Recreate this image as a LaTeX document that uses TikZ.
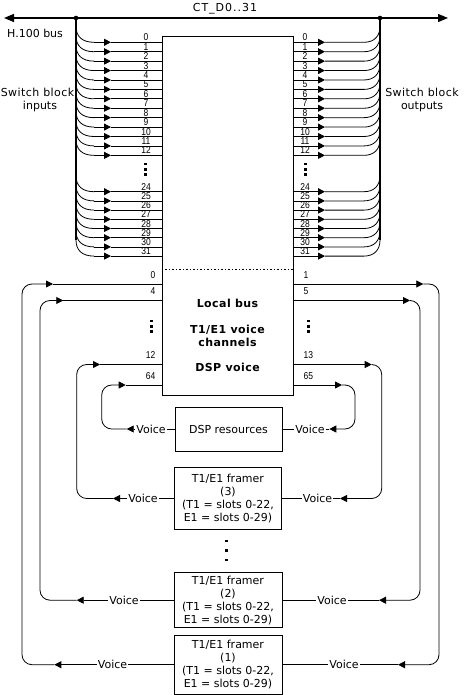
\documentclass[tikz,border=0pt]{standalone}
\usepackage{fontspec}
\setmainfont{DejaVu Sans}
\newfontfamily\numfont[FakeStretch=0.85]{Liberation Sans}
\newfontfamily\widefont[LetterSpace=9]{DejaVu Sans}
\newfontfamily\semiwide[LetterSpace=4]{DejaVu Sans}
\usetikzlibrary{arrows.meta}
\newcommand\swrow[2]{%
  \draw[wire] (76,#1-16) .. controls (76,#1-6) and (82,#1) .. (94,#1);
  \draw[wire,tip] (94,#1) -- (111,#1);
  \draw[wire] (111,#1) -- (sw.west |- 0,#1);
  \node[num, anchor=south] at (146,#1-0.8) {#2};
  \draw[wire,tip] (sw.east |- 0,#1) -- (325,#1);
  \draw[wire] (325,#1) -- (364,#1) .. controls (374,#1) and (380,#1-6) .. (380,#1-16);
  \node[num, anchor=south] at (305,#1-0.8) {#2};
}
\newcommand\dotsq[2]{\fill (#1-1.4,#2-1.4) rectangle (#1+1.4,#2+1.4);}
\begin{document}
\begin{tikzpicture}[x=1pt,y=-1pt,
  wire/.style={line width=0.8pt},
  bus/.style={line width=1.3pt},
  tip/.style={-{Triangle[length=7pt,width=7pt]}},
  box/.style={draw, line width=0.8pt, align=center, inner sep=0pt, font=\fontsize{11}{13}\selectfont},
  lbl/.style={font=\fontsize{11}{13}\selectfont, inner sep=0pt},
  wlbl/.style={font=\widefont\fontsize{11}{13}\selectfont, inner sep=0pt},
  slbl/.style={font=\semiwide\fontsize{11}{13}\selectfont, inner sep=0pt},
  bold/.style={font=\semiwide\fontsize{11}{13}\selectfont\bfseries, inner sep=0pt},
  num/.style={font=\numfont\fontsize{10}{10}\selectfont, inner sep=0.4pt},
  voice/.style={font=\fontsize{11}{13}\selectfont, fill=white, inner sep=1pt}]
\useasboundingbox (0,0) rectangle (466,695);

% boxes
\node[box, minimum width=131pt, minimum height=359pt] (sw) at (227.5,215.5) {};
\node[box, minimum width=107pt, minimum height=44pt] (dsp) at (228.5,429) {DSP resources};
\node[box, minimum width=107.5pt, minimum height=61.5pt] (f3) at (228,498.5) {T1/E1 framer\\(3)\\(T1 = slots 0-22,\\E1 = slots 0-29)};
\node[box, minimum width=108pt, minimum height=55pt] (f2) at (228,600.2) {T1/E1 framer\\(2)\\(T1 = slots 0-22,\\E1 = slots 0-29)};
\node[box, minimum width=108pt, minimum height=59pt] (f1) at (228,664.7) {T1/E1 framer\\(1)\\(T1 = slots 0-22,\\E1 = slots 0-29)};

% H.100 bus
\coordinate (busL) at (4,18);
\coordinate (busR) at (448,18);
\coordinate (jL) at (76,18);
\coordinate (jR) at (380,18);
\draw[bus, {Triangle[length=10pt,width=8pt]}-{Triangle[length=10pt,width=8pt]}] (busL) -- (busR);
\fill (jL) circle (2.3pt);
\fill (jR) circle (2.3pt);
\draw[line width=1.1pt] (jL) -- (76,240);
\draw[line width=1.1pt] (jR) -- (380,240);

\node[wlbl, anchor=base] at (225,12) {CT\_D0..31};
\node[lbl, anchor=base west] at (7,38) {H.100 bus};
\node[slbl, anchor=base] at (37.5,96.5) {Switch block};
\node[lbl, anchor=base] at (40,110) {inputs};
\node[slbl, anchor=base] at (422,97) {Switch block};
\node[lbl, anchor=base] at (422,110) {outputs};

% switch rows
\foreach \i in {0,...,12}{\pgfmathsetmacro\ry{42.3+9.42*\i}\swrow{\ry}{\i}}
\foreach \i [count=\k from 0] in {24,...,31}{\pgfmathsetmacro\ry{191.7+9.2*\k}\swrow{\ry}{\i}}

\dotsq{145.7}{164}\dotsq{145.7}{169.2}\dotsq{145.7}{174.4}
\dotsq{305.7}{164}\dotsq{305.7}{169.2}\dotsq{305.7}{174.4}

% separator
\draw[dash pattern=on 1.5pt off 2pt, line width=0.6pt] (sw.west |- 0,269) -- (sw.east |- 0,269);

% central texts
\node[bold, anchor=base] at (227.5,307.5) {Local bus};
\node[bold, anchor=base] at (227.5,333.5) {T1/E1 voice};
\node[bold, anchor=base] at (227.5,346) {channels};
\node[bold, anchor=base] at (227.5,371.5) {DSP voice};

% local bus labels
\node[num, anchor=south east] at (156,279) {0};
\node[num, anchor=south east] at (156,295.5) {4};
\node[num, anchor=south east] at (156,359.5) {12};
\node[num, anchor=south east] at (156,380) {64};
\node[num, anchor=south west] at (303,279) {1};
\node[num, anchor=south west] at (303,295.5) {5};
\node[num, anchor=south west] at (303,359.5) {13};
\node[num, anchor=south west] at (303,380) {65};
\dotsq{151.7}{321}\dotsq{151.7}{326.2}\dotsq{151.7}{331.4}
\dotsq{308.3}{321}\dotsq{308.3}{326.2}\dotsq{308.3}{331.4}
\dotsq{226.7}{541}\dotsq{226.7}{550.5}\dotsq{226.7}{560}

% left loops (framers/DSP -> switch)
\draw[wire,tip] (f1.west) -- (f1.west -| 54.3,0);
\draw[wire,rounded corners=10pt,tip] (f1.west -| 54.3,0) -- (f1.west -| 22,0) -- (22,284) -- (53,284);
\draw[wire] (53,284) -- (sw.west |- 0,284);
\node[voice] at (f1.west -| 112.5,0) {Voice};

\draw[wire,tip] (f2.west) -- (f2.west -| 76.7,0);
\draw[wire,rounded corners=10pt,tip] (f2.west -| 76.7,0) -- (f2.west -| 40,0) -- (40,300.5) -- (63.3,300.5);
\draw[wire] (63.3,300.5) -- (sw.west |- 0,300.5);
\node[voice] at (f2.west -| 124,0) {Voice};

\draw[wire,tip] (f3.west) -- (f3.west -| 113,0);
\draw[wire,rounded corners=10pt,tip] (f3.west -| 113,0) -- (f3.west -| 76.7,0) -- (76.7,364.5) -- (100,364.5);
\draw[wire] (100,364.5) -- (sw.west |- 0,364.5);
\node[voice] at (f3.west -| 143,0) {Voice};

\draw[wire,tip] (dsp.west) -- (dsp.west -| 126.7,0);
\draw[wire,rounded corners=10pt,tip] (dsp.west -| 126.7,0) -- (dsp.west -| 101.7,0) -- (101.7,385) -- (125.7,385);
\draw[wire] (125.7,385) -- (sw.west |- 0,385);
\node[voice] at (dsp.west -| 151,0) {Voice};

% right loops (switch -> framers/DSP)
\draw[wire,tip] (sw.east |- 0,284) -- (423.3,284);
\draw[wire,rounded corners=10pt,tip] (423.3,284) -- (439,284) -- (f1.east -| 439,0) -- (f1.east -| 398,0);
\draw[wire] (f1.east -| 398,0) -- (f1.east);
\node[voice] at (f1.east -| 344,0) {Voice};

\draw[wire,tip] (sw.east |- 0,300.5) -- (410,300.5);
\draw[wire,rounded corners=10pt,tip] (410,300.5) -- (420,300.5) -- (f2.east -| 420,0) -- (f2.east -| 379,0);
\draw[wire] (f2.east -| 379,0) -- (f2.east);
\node[voice] at (f2.east -| 332,0) {Voice};

\draw[wire,tip] (sw.east |- 0,364.5) -- (371.7,364.5);
\draw[wire,rounded corners=10pt,tip] (371.7,364.5) -- (381.7,364.5) -- (f3.east -| 381.7,0) -- (f3.east -| 340,0);
\draw[wire] (f3.east -| 340,0) -- (f3.east);
\node[voice] at (f3.east -| 317.5,0) {Voice};

\draw[wire,tip] (sw.east |- 0,385) -- (342,385);
\draw[wire,rounded corners=10pt,tip] (342,385) -- (355,385) -- (dsp.east -| 355,0) -- (dsp.east -| 329.3,0);
\draw[wire] (dsp.east -| 329.3,0) -- (dsp.east);
\node[voice] at (dsp.east -| 310,0) {Voice};
\end{tikzpicture}
\end{document}
